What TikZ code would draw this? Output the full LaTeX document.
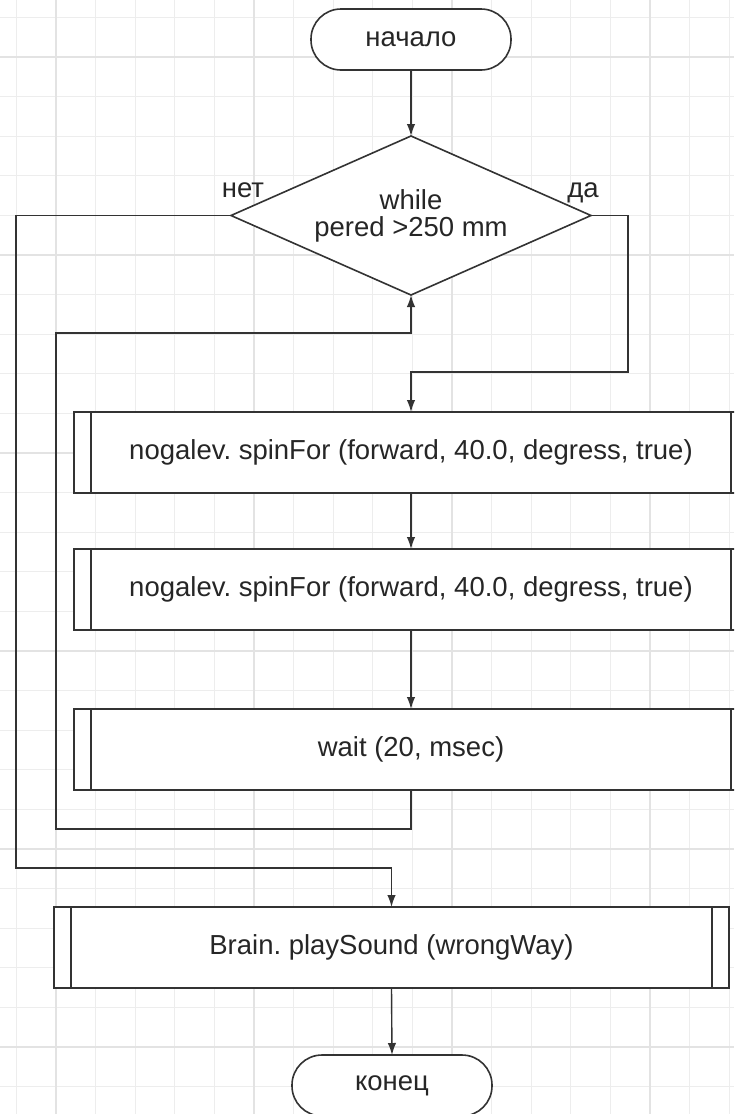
\documentclass[tikz,border=0pt]{standalone}
\usepackage{fontspec}
\setmainfont{Liberation Sans}
\usetikzlibrary{arrows.meta,shapes.geometric}
\frenchspacing
\begin{document}
\begin{tikzpicture}[x=1pt,y=-1pt,
  every node/.style={font=\fontsize{27.5pt}{27pt}\selectfont, text=black!85, outer sep=0pt},
  ln/.style={draw=black!80, line width=1.4pt},
  arr/.style={ln, -{Latex[length=12pt,width=8.5pt]}},
  bord/.style={draw=black!80, line width=1.6pt},
  term/.style={bord, fill=white, rounded corners=30pt, minimum width=200pt, minimum height=61pt, inner sep=0pt},
  subp/.style={bord, fill=white, rectangle, minimum height=81pt, inner sep=0pt},
  dec/.style={bord, fill=white, diamond, aspect=2.264, minimum width=360pt, minimum height=159pt, inner sep=0pt, align=center},
  lbl/.style={anchor=base, inner sep=0pt},
  gmin/.style={draw=black!7, line width=1pt},
  gmaj/.style={draw=black!11, line width=1.6pt}]
\useasboundingbox (0,0) rectangle (734,1114);
\clip (0,0) rectangle (734,1114);
\fill[white] (0,0) rectangle (734,1114);
% grid
\foreach \k in {0,...,18}{\draw[gmin] ({16.4+39.6*\k},0) -- ({16.4+39.6*\k},1114);}
\foreach \k in {0,...,27}{\draw[gmin] (0,{17.4+39.6*\k}) -- (734,{17.4+39.6*\k});}
\foreach \k in {1,6,11,16}{\draw[gmaj] ({16.4+39.6*\k},0) -- ({16.4+39.6*\k},1114);}
\foreach \k in {1,6,11,16,21,26}{\draw[gmaj] (0,{17.4+39.6*\k}) -- (734,{17.4+39.6*\k});}
% nodes
\node[term] (start) at (411,39.5) {начало};
\node[dec] (cond) at (411,215.5) {while\\pered >250 mm};
\node[subp, minimum width=674pt] (b1) at (411,452.5) {nogalev. spinFor (forward, 40.0, degress, true)};
\node[subp, minimum width=674pt] (b2) at (411,589.5) {nogalev. spinFor (forward, 40.0, degress, true)};
\node[subp, minimum width=674pt] (b3) at (411,749.5) {wait (20, msec)};
\node[subp, minimum width=675pt] (b4) at (391.5,947.5) {Brain. playSound (wrongWay)};
\node[term] (end) at (392,1085.5) {конец};
\foreach \n in {b1,b2,b3,b4}{
  \draw[bord] ([xshift=17pt]\n.north west) -- ([xshift=17pt]\n.south west);
  \draw[bord] ([xshift=-17pt]\n.north east) -- ([xshift=-17pt]\n.south east);
}
\node[lbl] (no) at (243,197) {нет};
\node[lbl] (yes) at (583,197) {да};
% helper coordinates
\coordinate (yesR) at (628,372);
\coordinate (loopL) at (56,333);
\coordinate (outL) at (16,868);
% connectors
\draw[arr] (start.south) -- (cond.north);
\draw[arr] (cond.east) -| (yesR) -- (yesR -| b1.north) -- (b1.north);
\draw[arr] (b1.south) -- (b2.north);
\draw[arr] (b2.south) -- (b3.north);
\draw[arr] (b3.south) -- ++(0,39) -| (loopL) -- (loopL -| cond.south) -- (cond.south);
\draw[arr] (cond.west) -| (outL) -- (outL -| b4.north) -- (b4.north);
\draw[arr] (b4.south) -- (end.north);
\end{tikzpicture}
\end{document}
